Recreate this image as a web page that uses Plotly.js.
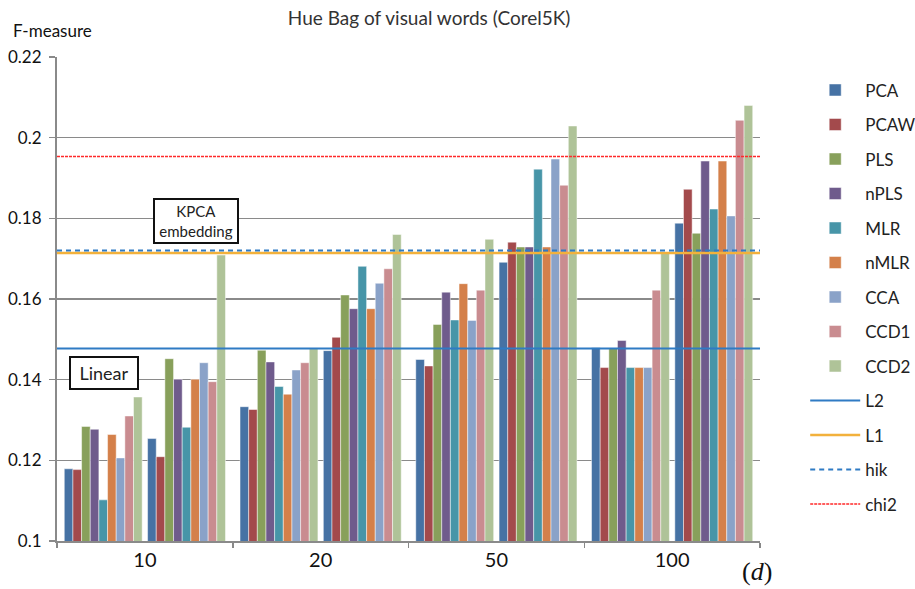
<!DOCTYPE html>
<html>
<head>
<meta charset="utf-8">
<script src="https://cdn.plot.ly/plotly-3.0.1.min.js"></script>
<style>html,body{margin:0;padding:0;background:#fff;}#chart{width:915px;height:589px;}</style>
</head>
<body>
<div id="chart"></div>
<script>
// Categories (dimension d) and the two embeddings shown in each category
const categories = ['10', '20', '50', '100'];
const embeddings = ['Linear', 'KPCA embedding'];

// Series values, ordered: [10 Linear, 10 KPCA, 20 Linear, 20 KPCA, 50 Linear, 50 KPCA, 100 Linear, 100 KPCA]
const PCA  = [0.1179, 0.1254, 0.1333, 0.1472, 0.1450, 0.1691, 0.1479, 0.1788];
const PCAW = [0.1177, 0.1209, 0.1326, 0.1505, 0.1434, 0.1741, 0.1430, 0.1872];
const PLS  = [0.1284, 0.1452, 0.1473, 0.1610, 0.1537, 0.1729, 0.1478, 0.1763];
const nPLS = [0.1277, 0.1401, 0.1444, 0.1576, 0.1617, 0.1729, 0.1497, 0.1942];
const MLR  = [0.1102, 0.1282, 0.1383, 0.1681, 0.1548, 0.1922, 0.1430, 0.1823];
const nMLR = [0.1264, 0.1401, 0.1364, 0.1576, 0.1638, 0.1729, 0.1430, 0.1942];
const CCA  = [0.1206, 0.1442, 0.1424, 0.1639, 0.1547, 0.1947, 0.1430, 0.1806];
const CCD1 = [0.1310, 0.1395, 0.1442, 0.1675, 0.1622, 0.1882, 0.1622, 0.2043];
const CCD2 = [0.1357, 0.1709, 0.1477, 0.1760, 0.1748, 0.2029, 0.1714, 0.2080];

// Baseline (no reduction) values with different kernels
const L2   = 0.1477;
const L1   = 0.1714;
const hik  = 0.1720;
const chi2 = 0.1953;

const methodNames = ['PCA','PCAW','PLS','nPLS','MLR','nMLR','CCA','CCD1','CCD2'];
const methodValues = [PCA, PCAW, PLS, nPLS, MLR, nMLR, CCA, CCD1, CCD2];
const methodColors = ['#4672A4','#A34A4C','#88A05B','#6F5B8C','#4795A8','#D4804A','#8AA2C8','#C98C90','#AFC398'];

const FONT = 'Lato, "Open Sans", sans-serif';
const clusterOffset = 0.237;

// x positions of each cluster: category index +/- offset
const xPos = [];
categories.forEach((c, i) => {
  embeddings.forEach((e, j) => {
    xPos.push(i + (j === 0 ? -clusterOffset : clusterOffset));
  });
});

const traces = [];
methodNames.forEach((name, k) => {
  traces.push({
    type: 'bar',
    name: name,
    x: xPos,
    y: methodValues[k],
    legendgroup: name,
    marker: {color: methodColors[k], line: {color: 'rgba(255,255,255,0.6)', width: 0.8}},
    hoverinfo: 'name+y'
  });
});

const xEnds = [-0.5, categories.length - 0.5];
const baselines = [
  {name: 'L2',   v: L2,   color: '#2F7BC4', dash: 'solid', width: 2},
  {name: 'L1',   v: L1,   color: '#F2B13C', dash: 'solid', width: 2.5},
  {name: 'hik',  v: hik,  color: '#2F7BC4', dash: '5px,4px', width: 2},
  {name: 'chi2', v: chi2, color: '#FF2A2A', dash: '3px,1px', width: 1.5}
];
baselines.forEach(b => {
  traces.push({
    type: 'scatter',
    mode: 'lines',
    name: b.name,
    legendgroup: b.name,
    x: xEnds,
    y: [b.v, b.v],
    line: {color: b.color, dash: b.dash, width: b.width},
    hoverinfo: 'name+y'
  });
});

// invisible trace on second x axis carrying the category labels
traces.push({
  type: 'scatter', mode: 'markers', x: categories.map((c, i) => i), y: categories.map(() => 0.1),
  xaxis: 'x2', showlegend: false, hoverinfo: 'skip', marker: {opacity: 0}
});

const layout = {
  width: 915, height: 589,
  margin: {l: 57, r: 155, t: 57, b: 48, autoexpand: false},
  paper_bgcolor: '#ffffff', plot_bgcolor: '#ffffff',
  font: {family: FONT, color: '#222222', size: 16},
  title: {
    text: 'Hue Bag of visual words (Corel5K)',
    x: 0.469, xref: 'container', xanchor: 'center',
    y: 0.969, yref: 'container', yanchor: 'middle',
    font: {family: FONT, size: 19, color: '#333333'}
  },
  barmode: 'group', bargap: 0.065, bargroupgap: 0,
  xaxis: {
    range: xEnds, tickvals: [-0.5, 0.5, 1.5, 2.5, 3.5], showticklabels: false,
    ticks: 'outside', ticklen: 5, tickcolor: '#888888', tickwidth: 1.5,
    showline: true, linecolor: '#8a8a8a', linewidth: 2, showgrid: false, zeroline: false, fixedrange: true
  },
  xaxis2: {
    overlaying: 'x', side: 'bottom', range: xEnds,
    tickvals: categories.map((c, i) => i), ticktext: categories, ticks: '',
    showline: false, showgrid: false, zeroline: false,
    tickfont: {family: FONT, size: 20, color: '#111111'}, ticklabelstandoff: 5
  },
  yaxis: {
    range: [0.1, 0.22], dtick: 0.02, tick0: 0.1,
    showgrid: true, gridcolor: '#8a8a8a', gridwidth: 1.5,
    ticks: 'outside', ticklen: 6, tickcolor: '#8a8a8a', tickwidth: 1.5,
    showline: true, linecolor: '#8a8a8a', linewidth: 2, zeroline: false,
    tickfont: {family: FONT, size: 17, color: '#111111'}, ticklabelstandoff: 4, fixedrange: true
  },
  legend: {
    xref: 'container', yref: 'container', x: 0.88, xanchor: 'left', y: 0.877, yanchor: 'top',
    font: {family: FONT, size: 17, color: '#222222'}, maxheight: 560,
    tracegroupgap: 9.4, itemwidth: 50, bgcolor: 'rgba(0,0,0,0)', traceorder: 'grouped'
  },
  annotations: [
    {text: 'F-measure', xref: 'paper', yref: 'paper', x: -0.065, y: 1.055, xanchor: 'left', yanchor: 'middle',
     showarrow: false, font: {family: FONT, size: 17, color: '#111111'}},
    {text: 'Linear', xref: 'x', yref: 'y', x: -0.233, y: 0.1416, showarrow: false,
     bordercolor: '#111111', borderwidth: 2, borderpad: 4, bgcolor: '#ffffff',
     font: {family: FONT, size: 18, color: '#222222'}, width: 58},
    {text: 'KPCA<br>embedding', xref: 'x', yref: 'y', x: 0.29, y: 0.1794, showarrow: false,
     bordercolor: '#111111', borderwidth: 2, borderpad: 2, bgcolor: '#ffffff',
     font: {family: FONT, size: 15, color: '#222222'}, width: 78},
    {text: '(<i>d</i>)', xref: 'paper', yref: 'paper', x: 0.996, y: -0.062, xanchor: 'center', yanchor: 'middle',
     showarrow: false, font: {family: '"Liberation Serif", "DejaVu Serif", serif', size: 26, color: '#111111'}}
  ]
};

Plotly.newPlot('chart', traces, layout, {displayModeBar: false, staticPlot: true});
</script>
</body>
</html>
